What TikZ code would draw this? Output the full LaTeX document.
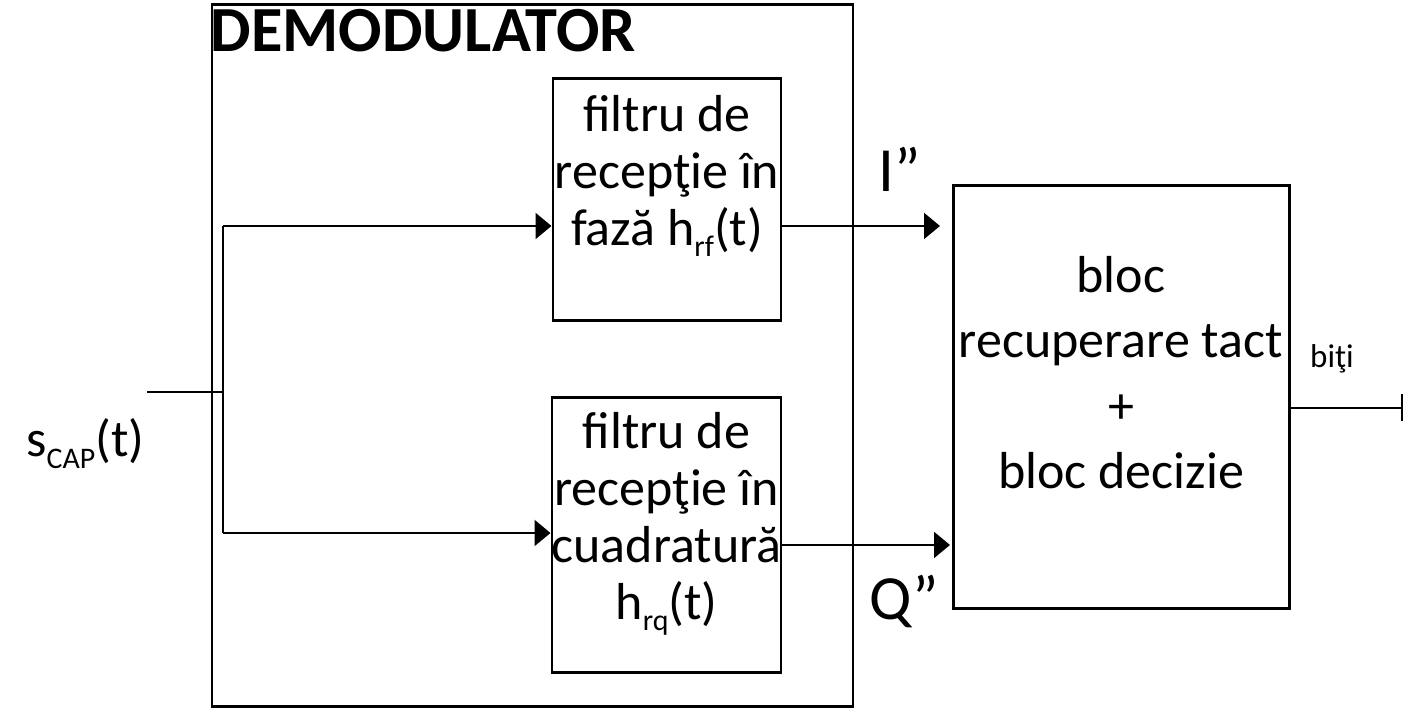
\documentclass[tikz,border=0pt]{standalone}
\usepackage{fontspec}
\setmainfont{Carlito}
\usetikzlibrary{arrows.meta,positioning}
\newcommand{\lowidx}[1]{\raisebox{-0.22em}{\fontsize{8.5}{9}\selectfont #1}}

\begin{document}
\begin{tikzpicture}[
  blk/.style={draw, line width=0.85pt, inner sep=0pt},
  txt/.style={inner sep=0pt, align=center, font=\fontsize{14.8}{16.2}\selectfont},
  big/.style={inner sep=0pt, font=\fontsize{17.9}{20}\selectfont},
  wire/.style={line width=0.6pt},
  arr/.style={wire, -{Triangle[length=0.16cm, width=0.26cm]}}
]
  \useasboundingbox (0,0) rectangle (14.05,7.08);

  % Demodulator frame
  \node[blk, minimum width=6.41cm, minimum height=7.02cm] (demod) at (5.325,3.52) {};
  \node[inner sep=0pt, anchor=base west, font=\bfseries\fontsize{18.3}{20}\selectfont] (title) at (2.10,6.56) {DEMODULATOR};

  % In-phase filter
  \node[blk, minimum width=2.28cm, minimum height=2.42cm] (ff) at (6.67,5.08) {};
  \node[txt, below=0.17cm of ff.north] (fft) {filtru de\\recepţie în\\fază h\lowidx{rf}(t)};

  % Quadrature filter
  \node[blk, minimum width=2.29cm, minimum height=2.75cm] (fq) at (6.665,1.725) {};
  \node[txt, below=0.15cm of fq.north] (fqt) {filtru de\\recepţie în\\cuadratură\\h\lowidx{rq}(t)};

  % Clock recovery + decision
  \node[blk, minimum width=3.36cm, minimum height=4.23cm] (dec) at (11.21,3.105) {};
  \node[txt, font=\fontsize{14.8}{18.6}\selectfont, below=0.71cm of dec.north] (dect) {bloc\\recuperare tact\\+\\bloc decizie};

  % Input split
  \coordinate (in) at (1.47,3.16);
  \coordinate (split) at (2.23,3.16);
  \coordinate (up) at (2.23,4.82);
  \coordinate (dn) at (2.23,1.75);
  \draw[wire] (in) -- (split);
  \draw[wire] (up) -- (dn);
  \draw[arr] (up) -- (up -| ff.west);
  \draw[arr] (dn) -- (dn -| fq.west);

  % Filter outputs
  \coordinate (iout) at (9.40,4.82);
  \coordinate (qout) at (9.50,1.63);
  \draw[arr] (iout -| ff.east) -- (iout);
  \draw[arr] (qout -| fq.east) -- (qout);

  % Bit output
  \coordinate (bout) at (14.03,3.00);
  \draw[wire, -{Bar[width=0.27cm]}] (bout -| dec.east) -- (bout);

  % Labels
  \node[inner sep=0pt, anchor=base east, font=\fontsize{14.8}{16}\selectfont] (sin) at (1.45,2.51) {s\lowidx{CAP}(t)};
  \node[big, anchor=base west] (ilbl) at (8.78,5.16) {I”};
  \node[big, anchor=base west] (qlbl) at (8.69,0.88) {Q”};
  \node[inner sep=0pt, anchor=base, font=\fontsize{9.4}{11}\selectfont] (bits) at (13.32,3.40) {biţi};
\end{tikzpicture}
\end{document}
